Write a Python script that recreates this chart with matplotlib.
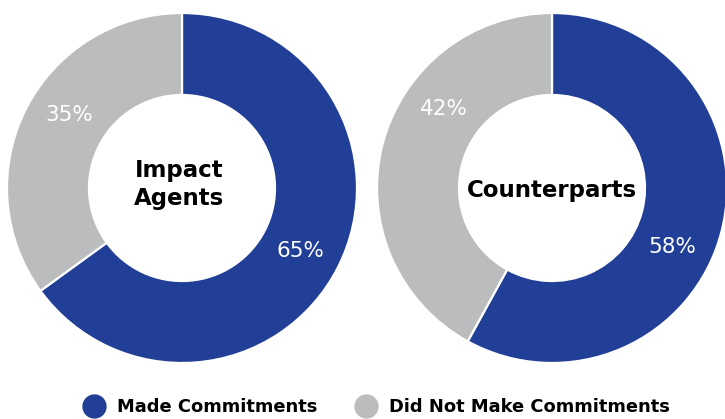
import numpy as np
import matplotlib
matplotlib.use("Agg")
import matplotlib.pyplot as plt
from matplotlib.lines import Line2D

# Data
groups = ["Impact\nAgents", "Counterparts"]
made = [65, 58]
not_made = [35, 42]
series_labels = ["Made Commitments", "Did Not Make Commitments"]

BLUE = "#213F96"
GRAY = "#BBBCBE"

W, H = 725, 419
fig = plt.figure(figsize=(W / 100, H / 100), dpi=100)
ax = fig.add_axes([0, 0, 1, 1])

R = 175
HOLE = 93
centers = [(182, H - 188), (552, H - 188)]
# angles (deg) for the value labels of each donut: (made, not made)
label_angles = [(-28, 147), (-26, 144)]
label_r = 134
# baseline offsets of the centre titles
title_dx = [-3, 0]
title_base = [H - 205, H - 197]

for i, (cx, cy) in enumerate(centers):
    vals = [made[i], not_made[i]]
    ax.pie(vals, colors=[BLUE, GRAY], startangle=90, counterclock=False,
           center=(cx, cy), radius=R,
           wedgeprops=dict(width=R - HOLE, edgecolor="white", linewidth=1.6))
    for v, ang in zip(vals, label_angles[i]):
        a = np.deg2rad(ang)
        ax.text(cx + label_r * np.cos(a), cy + label_r * np.sin(a) + 2, f"{v}%",
                ha="center", va="center_baseline", color="white",
                fontsize=15.5, family="DejaVu Sans")
    ax.text(cx + title_dx[i], title_base[i], groups[i], ha="center",
            va="baseline", color="black", fontsize=16.5, fontweight="bold",
            family="DejaVu Sans", linespacing=1.3)

ax.set_xlim(0, W)
ax.set_ylim(0, H)
ax.set_aspect("equal")
ax.axis("off")

handles = [Line2D([], [], marker="o", linestyle="none", markersize=16.5,
                  markerfacecolor=c, markeredgecolor=c) for c in (BLUE, GRAY)]
fig.legend(handles, series_labels, ncol=2, loc="center",
           bbox_to_anchor=(376 / W, 1 - 407 / H), frameon=False,
           prop=dict(family="DejaVu Sans", weight="bold", size=12.9),
           handletextpad=0.6, columnspacing=2.1, handlelength=1.3)

fig.savefig("out.png", dpi=100)
